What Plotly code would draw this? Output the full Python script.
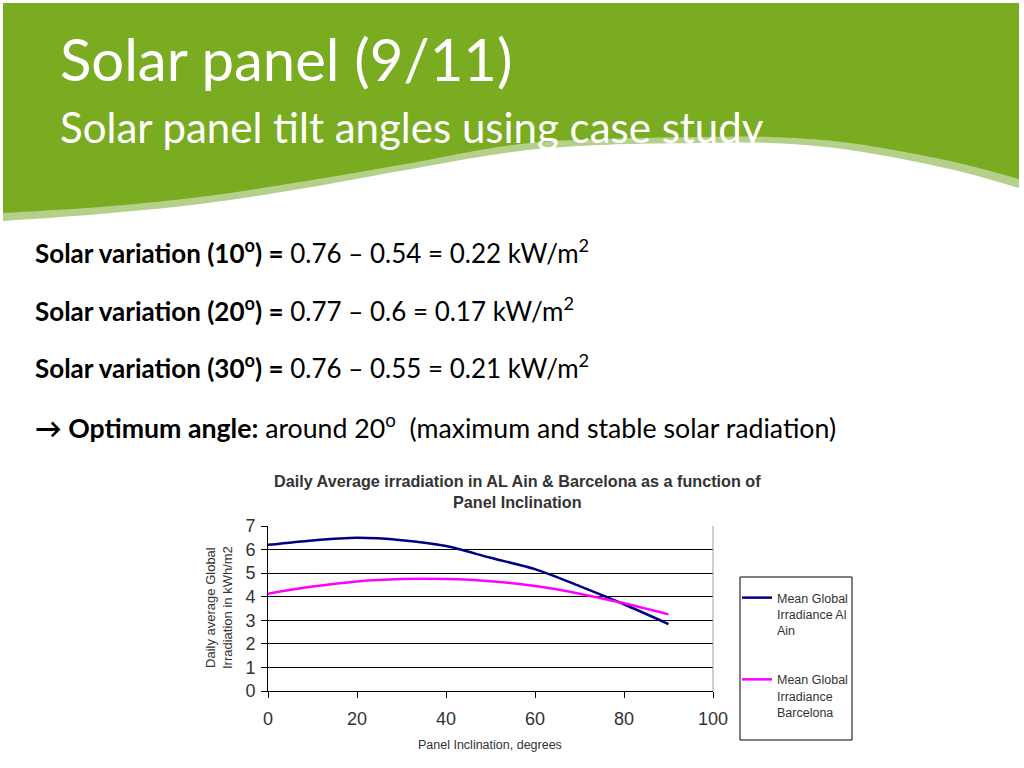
import plotly.graph_objects as go

# ---- data ----
angles = [0, 10, 20, 30, 40, 50, 60, 70, 80, 90]
al_ain = [6.2, 6.39, 6.5, 6.4, 6.15, 5.65, 5.17, 4.45, 3.68, 2.84]
barcelona = [4.13, 4.43, 4.65, 4.75, 4.75, 4.66, 4.45, 4.13, 3.72, 3.25]
series_names = ["Mean Global<br>Irradiance Al<br>Ain", "Mean Global<br>Irradiance<br>Barcelona"]
x_ticks = [0, 20, 40, 60, 80, 100]
y_ticks = [0, 1, 2, 3, 4, 5, 6, 7]

W, H = 1024, 768

def px(x, y):
    return x / W, 1 - y / H

def catmull(points, n=12):
    out = []
    pts = [points[0]] + points + [points[-1]]
    for i in range(1, len(pts) - 2):
        p0, p1, p2, p3 = pts[i - 1], pts[i], pts[i + 1], pts[i + 2]
        for k in range(n):
            t = k / n
            t2, t3 = t * t, t * t * t
            x = 0.5 * ((2 * p1[0]) + (-p0[0] + p2[0]) * t + (2 * p0[0] - 5 * p1[0] + 4 * p2[0] - p3[0]) * t2 + (-p0[0] + 3 * p1[0] - 3 * p2[0] + p3[0]) * t3)
            y = 0.5 * ((2 * p1[1]) + (-p0[1] + p2[1]) * t + (2 * p0[1] - 5 * p1[1] + 4 * p2[1] - p3[1]) * t2 + (-p0[1] + 3 * p1[1] - 3 * p2[1] + p3[1]) * t3)
            out.append((x, y))
    out.append(points[-1])
    return out

def path_from(pts):
    s = ""
    for i, (x, y) in enumerate(pts):
        X, Y = px(x, y)
        s += ("M" if i == 0 else "L") + f"{X:.5f},{Y:.5f} "
    return s + "Z"

green_bottom = [(1019, 179), (950, 161), (850, 143), (770, 137), (700, 137), (600, 139), (512, 145), (400, 165), (300, 182), (200, 197), (100, 207), (3, 213)]
band_bottom = [(1019, 188), (950, 169), (850, 150), (770, 143), (700, 143), (600, 145), (512, 152), (400, 171), (300, 189), (200, 204), (100, 214), (3, 221)]

green_path = path_from([(3, 3), (1019, 3)] + catmull(green_bottom))
band_path = path_from([(3, 100), (1019, 100)] + catmull(band_bottom))

fig = go.Figure()
colors = ["#000080", "#FF00FF"]
for i, (name, vals, c) in enumerate(zip(series_names, [al_ain, barcelona], colors)):
    fig.add_trace(go.Scatter(x=angles, y=vals, mode="lines", name=name, legendgroup=f"g{i}",
                             line=dict(color=c, width=2.5, shape="spline", smoothing=0.8)))

x0p, x1p = 268 / W, 713 / W
y0p, y1p = 1 - 691 / H, 1 - 526 / H

axis_font = dict(family="Liberation Sans, Arial", size=18, color="#333333")
fig.update_layout(
    width=W, height=H,
    margin=dict(l=0, r=0, t=0, b=0, pad=0, autoexpand=False),
    paper_bgcolor="white", plot_bgcolor="white",
    showlegend=True,
    xaxis=dict(domain=[x0p, x1p], range=[0, 100], tickvals=x_ticks, showgrid=False,
               showline=True, linecolor="black", linewidth=1, ticks="outside", ticklen=6,
               tickcolor="black", tickfont=axis_font, ticklabelstandoff=5, zeroline=False,
               automargin=False),
    yaxis=dict(domain=[y0p, y1p], range=[0, 7], tickvals=y_ticks, showgrid=True,
               gridcolor="black", gridwidth=1, showline=True, linecolor="black", linewidth=1,
               ticks="outside", ticklen=6, tickcolor="black", tickfont=axis_font,
               ticklabelstandoff=2, zeroline=False, automargin=False),
    legend=dict(x=737 / W, y=1 - 583 / H, xanchor="left", yanchor="top",
                borderwidth=0, bgcolor="rgba(0,0,0,0)",
                font=dict(family="Liberation Sans, Arial", size=12.5, color="#333333"),
                itemwidth=30, valign="top", tracegroupgap=30),
)

x_l, y_t = px(740, 577)
x_r, y_b = px(852, 740)
shapes = [
    dict(type="path", path=band_path, xref="paper", yref="paper", fillcolor="#b5d08a", line=dict(width=0), layer="below"),
    dict(type="path", path=green_path, xref="paper", yref="paper", fillcolor="#7aac22", line=dict(width=0), layer="below"),
    dict(type="line", xref="x domain", yref="y domain", x0=1, x1=1, y0=0, y1=1, line=dict(color="#a0a0a0", width=1)),
    dict(type="rect", xref="paper", yref="paper", x0=x_l, x1=x_r, y0=y_b, y1=y_t, line=dict(color="black", width=1)),
]
fig.update_layout(shapes=shapes)

cal = "Lato, Open Sans, sans-serif"
ann = []
def add_text(x, y, text, size, color="black", family=cal, xanchor="left", angle=0):
    X, Y = px(x, y)
    ann.append(dict(x=X, y=Y, xref="paper", yref="paper", text=text, showarrow=False,
                    xanchor=xanchor, yanchor="middle", textangle=angle,
                    font=dict(family=family, size=size, color=color),
                    align="center" if xanchor == "center" else "left"))

add_text(58, 58, "Solar panel (9/11)", 58, "white")
add_text(58, 127, "Solar panel tilt angles using case study", 42, "white")
add_text(33, 251, "<b>Solar variation (10<sup>o</sup>) =</b> 0.76 – 0.54 = 0.22 kW/m<sup>2</sup>", 26)
add_text(33, 309, "<b>Solar variation (20<sup>o</sup>) =</b> 0.77 – 0.6 = 0.17 kW/m<sup>2</sup>", 26)
add_text(33, 367, "<b>Solar variation (30<sup>o</sup>) =</b> 0.76 – 0.55 = 0.21 kW/m<sup>2</sup>", 26)
add_text(33, 426, "<b>→ Optimum angle:</b> around 20<sup>o</sup>  (maximum and stable solar radiation)", 26.7)

arial = "Liberation Sans, Arial"
add_text(517, 491, "<b>Daily Average irradiation in AL Ain &amp; Barcelona as a function of<br>Panel Inclination</b>", 16.2, "#333333", arial, "center")
add_text(490, 745, "Panel Inclination, degrees", 12.5, "#333333", arial, "center")
add_text(219, 608, "Daily average Global<br>Irradiation in kWh/m2", 13, "#333333", arial, "center", -90)
fig.update_layout(annotations=ann)

fig.write_html("out.html", config={"displayModeBar": False},
               post_script="document.body.style.margin='0';document.body.style.overflow='hidden';")
